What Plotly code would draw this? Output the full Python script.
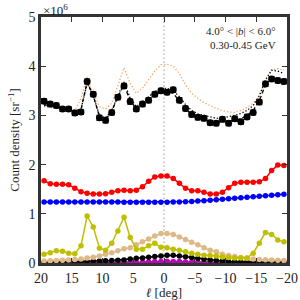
import plotly.graph_objects as go

ell = [19.5, 18.5, 17.5, 16.5, 15.5, 14.5, 13.5, 12.5, 11.5, 10.5,
       9.5, 8.5, 7.5, 6.5, 5.5, 4.5, 3.5, 2.5, 1.5, 0.5,
       -0.5, -1.5, -2.5, -3.5, -4.5, -5.5, -6.5, -7.5, -8.5, -9.5,
       -10.5, -11.5, -12.5, -13.5, -14.5, -15.5, -16.5, -17.5, -18.5, -19.5]

data = [3.29, 3.23, 3.20, 3.13, 3.13, 3.05, 3.07, 3.69, 3.43, 2.95,
        2.90, 3.06, 3.37, 3.60, 3.28, 3.13, 3.23, 3.31, 3.43, 3.50,
        3.47, 3.52, 3.31, 3.14, 3.02, 2.96, 2.94, 2.85, 2.84, 2.92,
        2.84, 2.93, 2.87, 2.97, 3.06, 3.27, 3.64, 3.74, 3.71, 3.69]
data_err = [0.05] * 40

model_dashed = [3.22, 3.20, 3.18, 3.15, 3.12, 3.08, 3.12, 3.68, 3.40, 2.98,
                2.92, 3.08, 3.38, 3.62, 3.30, 3.14, 3.22, 3.32, 3.42, 3.48,
                3.48, 3.45, 3.30, 3.13, 3.02, 2.95, 2.92, 2.88, 2.86, 2.88,
                2.88, 2.90, 2.93, 3.00, 3.10, 3.30, 3.62, 3.74, 3.72, 3.70]

model_dotted = [3.20, 3.18, 3.16, 3.14, 3.12, 3.10, 3.12, 3.65, 3.40, 3.00,
                2.95, 3.10, 3.40, 3.68, 3.35, 3.18, 3.28, 3.38, 3.48, 3.55,
                3.55, 3.50, 3.38, 3.22, 3.10, 3.03, 3.00, 2.96, 2.94, 2.95,
                2.97, 3.00, 3.04, 3.10, 3.20, 3.40, 3.72, 3.92, 3.90, 3.85]

model_tan = [3.18, 3.17, 3.16, 3.15, 3.14, 3.10, 3.35, 3.78, 3.45, 3.18,
             3.13, 3.25, 3.60, 3.97, 3.65, 3.45, 3.55, 3.72, 3.90, 4.03,
             4.04, 4.00, 3.85, 3.62, 3.45, 3.35, 3.26, 3.20, 3.14, 3.10,
             3.07, 3.06, 3.10, 3.16, 3.25, 3.40, 3.70, 3.92, 3.95, 3.92]

red = [1.67, 1.61, 1.60, 1.60, 1.59, 1.52, 1.45, 1.42, 1.40, 1.40,
       1.41, 1.44, 1.47, 1.48, 1.47, 1.48, 1.55, 1.66, 1.75, 1.77,
       1.77, 1.72, 1.62, 1.52, 1.47, 1.47, 1.44, 1.40, 1.40, 1.44,
       1.53, 1.62, 1.64, 1.64, 1.64, 1.65, 1.72, 1.88, 1.99, 1.98]

blue = [1.24, 1.24, 1.24, 1.24, 1.24, 1.24, 1.24, 1.24, 1.24, 1.24,
        1.24, 1.24, 1.24, 1.235, 1.235, 1.235, 1.235, 1.235, 1.235, 1.235,
        1.235, 1.24, 1.24, 1.245, 1.25, 1.26, 1.265, 1.275, 1.285, 1.295,
        1.305, 1.315, 1.325, 1.335, 1.345, 1.355, 1.365, 1.375, 1.385, 1.395]

olive = [0.18, 0.21, 0.25, 0.24, 0.20, 0.19, 0.35, 0.955, 0.73, 0.30,
         0.26, 0.40, 0.65, 0.93, 0.52, 0.28, 0.28, 0.35, 0.40, 0.32,
         0.31, 0.28, 0.26, 0.23, 0.20, 0.18, 0.16, 0.15, 0.14, 0.12,
         0.11, 0.10, 0.10, 0.10, 0.20, 0.40, 0.62, 0.58, 0.47, 0.43]

tan = [0.04, 0.045, 0.05, 0.055, 0.06, 0.07, 0.08, 0.10, 0.115, 0.14,
       0.18, 0.21, 0.25, 0.29, 0.31, 0.37, 0.43, 0.49, 0.55, 0.60,
       0.60, 0.58, 0.53, 0.48, 0.42, 0.37, 0.31, 0.26, 0.23, 0.18,
       0.15, 0.13, 0.11, 0.095, 0.08, 0.07, 0.065, 0.06, 0.055, 0.05]

black_comp = [0.01, 0.012, 0.014, 0.016, 0.018, 0.02, 0.025, 0.03, 0.035, 0.04,
              0.045, 0.05, 0.055, 0.06, 0.08, 0.095, 0.10, 0.115, 0.13, 0.14,
              0.155, 0.155, 0.14, 0.125, 0.11, 0.09, 0.075, 0.06, 0.05, 0.04,
              0.033, 0.027, 0.022, 0.018, 0.015, 0.013, 0.012, 0.011, 0.01, 0.01]

magenta = [0.002, 0.002, 0.002, 0.002, 0.002, 0.002, 0.002, 0.002, 0.002, 0.002,
           0.002, 0.002, 0.003, 0.005, 0.008, 0.012, 0.016, 0.022, 0.028, 0.033,
           0.035, 0.033, 0.028, 0.02, 0.013, 0.008, 0.005, 0.003, 0.002, 0.002,
           0.002, 0.002, 0.002, 0.002, 0.002, 0.002, 0.002, 0.002, 0.002, 0.002]

green = [0.012, 0.012, 0.011, 0.01, 0.01, 0.009, 0.008, 0.007, 0.006, 0.005,
         0.005, 0.004, 0.004, 0.004, 0.003, 0.003, 0.003, 0.003, 0.003, 0.003,
         0.003, 0.003, 0.003, 0.003, 0.003, 0.004, 0.004, 0.005, 0.006, 0.007,
         0.008, 0.009, 0.01, 0.011, 0.012, 0.013, 0.014, 0.015, 0.016, 0.016]

x_ticks = [20, 15, 10, 5, 0, -5, -10, -15, -20]
x_ticklabels = ["20", "15", "10", "5", "0", "\u22125", "\u221210", "\u221215", "\u221220"]
y_ticks = [0, 1, 2, 3, 4, 5]

FONT = "Liberation Serif"
fig = go.Figure()

# vertical reference line at l = 0
fig.add_trace(go.Scatter(x=[0, 0], y=[0, 5], mode="lines",
                         line=dict(color="#aaaaaa", width=1.2, dash="1.5px,2.5px"),
                         showlegend=False, hoverinfo="skip"))

comps = [
    (green, "#008000"),
    (magenta, "#bf00bf"),
    (black_comp, "#000000"),
    (tan, "#deb887"),
    (olive, "#bfbf00"),
    (blue, "#0000ff"),
    (red, "#ff0000"),
]
for vals, col in comps:
    fig.add_trace(go.Scatter(x=ell, y=vals, mode="lines+markers",
                             line=dict(color=col, width=1.5),
                             marker=dict(color=col, size=5.5),
                             showlegend=False))

fig.add_trace(go.Scatter(x=ell, y=model_tan, mode="lines",
                         line=dict(color="#f0a860", width=1.3, dash="1.3px,2px"),
                         showlegend=False))
fig.add_trace(go.Scatter(x=ell, y=model_dotted, mode="lines",
                         line=dict(color="#000000", width=1.3, dash="1.3px,2px"),
                         showlegend=False))
fig.add_trace(go.Scatter(x=ell, y=model_dashed, mode="lines",
                         line=dict(color="#000000", width=1.3, dash="4px,2.5px"),
                         showlegend=False))
fig.add_trace(go.Scatter(x=ell, y=data, mode="markers",
                         marker=dict(color="#000000", size=7),
                         error_y=dict(type="data", array=data_err, color="#222222",
                                      thickness=1.2, width=3),
                         showlegend=False))

axis_common = dict(showgrid=False, zeroline=False, showline=True, linecolor="#333333",
                   linewidth=2.5, mirror="ticks", ticks="inside", ticklen=5,
                   tickcolor="#333333", tickwidth=1, automargin=False,
                   tickfont=dict(family=FONT, size=14, color="#222222"))

fig.update_layout(
    width=300, height=300, autosize=False,
    margin=dict(l=41, r=13, t=17, b=37),
    paper_bgcolor="white", plot_bgcolor="white",
    font=dict(family=FONT, color="#222222"),
    xaxis=dict(range=[20, -20], tickvals=x_ticks, ticktext=x_ticklabels,
               title=dict(text="<i>\u2113</i> [deg]", font=dict(family=FONT, size=13),
                          standoff=2),
               **axis_common),
    yaxis=dict(range=[0, 5], tickvals=y_ticks,
               title=dict(text="Count density [sr<sup>\u22121</sup>]",
                          font=dict(family=FONT, size=13), standoff=6),
               **axis_common),
    annotations=[
        dict(x=0, y=1, xref="paper", yref="paper", xanchor="left", yanchor="bottom",
             text="\u00d710<sup>6</sup>", showarrow=False,
             font=dict(family=FONT, size=13, color="#222222"), yshift=-3),
        dict(x=0.965, y=0.975, xref="paper", yref="paper", xanchor="right", yanchor="top",
             text="4.0\u00b0 &lt; |<i>b</i>| &lt; 6.0\u00b0<br>0.30-0.45 GeV",
             align="right", showarrow=False,
             font=dict(family=FONT, size=11, color="#222222")),
    ],
)

fig.write_html("out.html", config={"responsive": False, "displayModeBar": False},
               post_script="document.body.style.margin='0';document.body.style.padding='0';document.body.style.overflow='hidden';")
